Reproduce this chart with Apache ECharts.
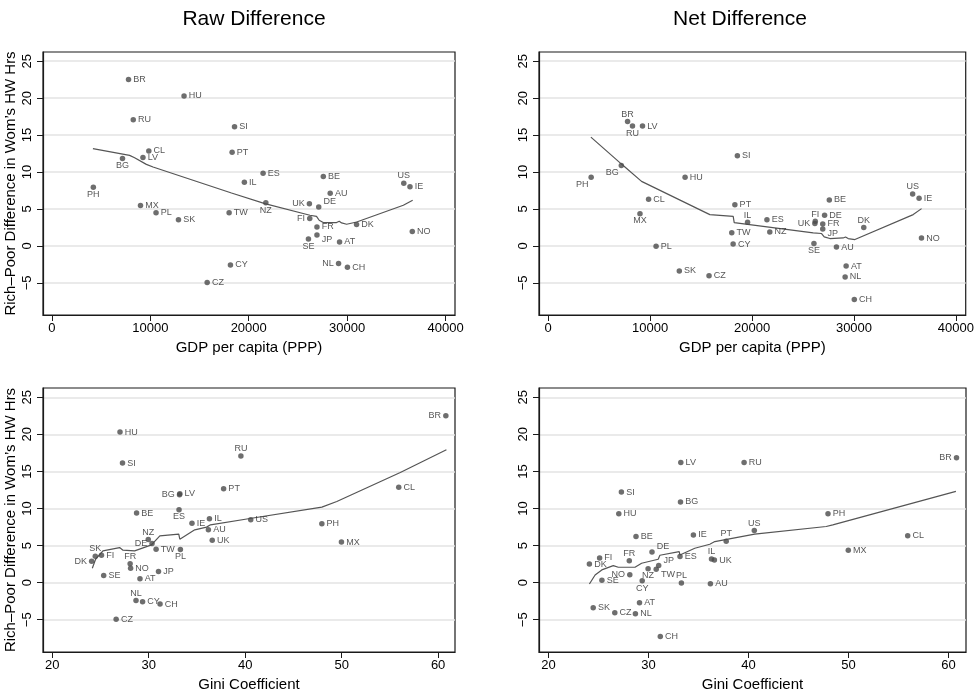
<!DOCTYPE html>
<html><head><meta charset="utf-8">
<script src="https://cdn.jsdelivr.net/npm/echarts@6/dist/echarts.min.js"></script>
<style>html,body{margin:0;padding:0;background:#fff}#c{width:977px;height:693px}</style>
</head><body><div id="c"></div>
<script>
// ---- data ----
const countries = ['BR','HU','RU','SI','CL','PT','LV','BG','ES','BE','US','IE','IL','PH','AU','MX','NZ','UK','DE','PL','TW','SK','FI','FR','DK','NO','JP','SE','AT','NL','CH','CY','CZ'];
const gdp = [7790,13430,8270,18560,9850,18315,9255,7175,21460,27580,35755,36385,19560,4215,28280,9005,21740,26165,27115,10585,18010,12865,26200,26935,30960,36620,26935,26070,29230,29130,30030,18145,15780];
const gini = [60.8,27.03,39.56,27.29,55.92,37.77,33.23,33.2,33.15,28.75,40.58,34.49,36.3,47.95,36.19,49.98,29.96,36.59,30.35,33.29,30.77,24.47,25.11,28.08,24.09,28.13,31.02,25.34,29.1,28.69,31.18,29.37,26.63];
const rawDiff = [22.52,20.3,17.07,16.13,12.86,12.68,11.98,11.85,9.84,9.39,8.49,8.02,8.62,7.93,7.14,5.48,5.83,5.72,5.27,4.48,4.5,3.56,3.71,2.56,2.9,1.96,1.49,0.95,0.54,-2.39,-2.88,-2.57,-4.95];
const netDiff = [16.83,9.28,16.22,12.21,6.31,5.59,16.22,10.88,3.53,6.22,7.03,6.44,3.2,9.28,-0.16,4.37,1.89,3.04,4.14,-0.05,1.8,-3.38,3.33,2.97,2.5,1.06,2.3,0.32,-2.72,-4.19,-7.25,0.25,-4.05];

// lowess smooth lines
const fitRawGdpX = [4170,7900,8410,9600,10280,18250,18410,21640,26220,26890,27160,27570,28930,29200,29440,29950,30970,35710,36660];
const fitRawGdpY = [13.16,12.26,11.94,11.04,10.68,7.16,6.99,5.73,4.15,4.01,3.47,3.16,3.16,3.34,3.11,2.93,3.24,5.5,6.18];
const fitNetGdpX = [4190,7030,7530,9160,15860,18150,18250,26000,26820,27080,27640,28940,29170,29430,30090,35810,36630];
const fitNetGdpY = [14.73,11.27,10.68,8.74,4.24,4.01,3.16,1.76,1.68,1.22,1.0,1.08,1.2,1.0,0.86,4.24,5.05];
const fitRawGiniX = [24.16,24.5,25.26,26.99,27.34,28.55,30.29,31.16,33.12,33.23,34.78,36.0,36.41,40.5,47.95,49.5,56.08,60.86];
const fitRawGiniY = [1.95,3.16,4.28,4.73,4.38,4.28,5.09,6.31,6.54,5.86,7.12,7.49,7.8,8.65,10.19,10.95,14.86,17.93];
const fitNetGiniX = [24.09,24.66,25.33,26.48,26.98,28.65,29.31,30.97,31.14,33.07,33.14,34.63,36.13,36.63,40.62,47.77,48.43,60.74];
const fitNetGiniY = [-0.18,1.04,1.72,2.3,2.08,2.08,2.62,3.16,3.7,4.19,3.74,4.64,5.18,5.54,6.54,7.57,7.8,12.3];

const yTicks = [-5,0,5,10,15,20,25];
const gdpTicks = [0,10000,20000,30000,40000];
const giniTicks = [20,30,40,50,60];

const titles = ['Raw Difference','Net Difference'];
const yTitle = 'Rich\u2013Poor Difference in Wom\u2019s HW Hrs';
const xTitles = ['GDP per capita (PPP)','Gini Coefficient'];

// label placement (clock positions) per panel — styling only
const labelClock = [
  {US:12, PH:6, BG:6, NZ:6, UK:9, FI:9, SE:6, NL:9, DE:2, JP:4},
  {BR:12, RU:6, BG:7, PH:7, MX:6, FI:12, IL:12, UK:9, DK:12, US:12, SE:6, JP:4},
  {BR:9, RU:12, BG:9, ES:6, NZ:12, DE:9, PL:6, SK:12, DK:9, FR:12, NL:12},
  {BR:9, US:12, PT:12, IL:12, FR:12, NO:9, CY:6, NZ:6, PL:12, DE:2, JP:2, TW:4}
];

// ---- build ----
const FONT = 'Liberation Sans, Arial, Helvetica, sans-serif';
function labelFor(c) {
  switch (c) {
    case 9: return {position:'left', distance:2};
    case 12: return {position:'top', distance:0};
    case 6: return {position:'bottom', distance:0};
    case 2: return {position:'right', distance:2, offset:[0,-5]};
    case 4: return {position:'right', distance:2, offset:[0,5]};
    case 7: return {position:'bottom', distance:0, offset:[-9,0]};
    default: return {position:'right', distance:2};
  }
}
function minus(v){ return String(v).replace('-', '\u2212'); }

const grids = [
  {left:43, top:52, width:412, height:263},
  {left:539, top:52, width:427, height:263},
  {left:43, top:388, width:412, height:264},
  {left:539, top:388, width:427, height:264}
].map(g => Object.assign(g, {show:true, borderColor:'#1a1a1a', borderWidth:1.2, backgroundColor:'#fff'}));

const panels = [
  {xv:gdp, yv:rawDiff, fx:fitRawGdpX, fy:fitRawGdpY, gdpAxis:true},
  {xv:gdp, yv:netDiff, fx:fitNetGdpX, fy:fitNetGdpY, gdpAxis:true},
  {xv:gini, yv:rawDiff, fx:fitRawGiniX, fy:fitRawGiniY, gdpAxis:false},
  {xv:gini, yv:netDiff, fx:fitNetGiniX, fy:fitNetGiniY, gdpAxis:false}
];

const axisLine = {show:true, onZero:false, lineStyle:{color:'#1a1a1a', width:1.2}};
const axisTickBase = {show:true, inside:false, length:6, lineStyle:{color:'#1a1a1a', width:1}};
const xAxes = [], yAxes = [], series = [];
panels.forEach((p, i) => {
  const ticks = p.gdpAxis ? gdpTicks : giniTicks;
  xAxes.push({
    type:'value', gridIndex:i,
    min: p.gdpAxis ? -900 : 19.05, max: p.gdpAxis ? 40960 : 61.75,
    axisLine, axisTick:Object.assign({customValues:ticks}, axisTickBase),
    axisLabel:{customValues:ticks, color:'#000', fontSize:13, fontFamily:FONT, margin:7, formatter:minus},
    splitLine:{show:false},
    name: xTitles[p.gdpAxis ? 0 : 1], nameLocation:'middle', nameGap:25,
    nameTextStyle:{color:'#000', fontSize:15, fontFamily:FONT}
  });
  yAxes.push({
    type:'value', gridIndex:i, min:-9.35, max:26.25,
    axisLine, axisTick:Object.assign({customValues:yTicks}, axisTickBase),
    axisLabel:{customValues:yTicks, color:'#000', fontSize:13, fontFamily:FONT, margin:9, rotate:90, formatter:minus},
    splitLine:{show:true, lineStyle:{color:'#e3e3e3', width:1.5}},
    name: (i % 2 === 0) ? yTitle : '', nameLocation:'middle', nameGap:25, nameRotate:90,
    nameTextStyle:{color:'#000', fontSize:15, fontFamily:FONT}
  });
  series.push({
    type:'line', xAxisIndex:i, yAxisIndex:i, showSymbol:false, silent:true,
    data: p.fx.map((x, k) => [x, p.fy[k]]),
    lineStyle:{color:'#555', width:1.2}, z:2, animation:false
  });
  series.push({
    type:'scatter', xAxisIndex:i, yAxisIndex:i, symbolSize:5.5, z:3, animation:false,
    itemStyle:{color:'#4a4a4a'},
    label:{show:true, formatter:'{@[2]}', color:'#2a2a2a', fontSize:9, fontFamily:FONT},
    data: countries.map((c, k) => ({
      value:[p.xv[k], p.yv[k], c],
      label: labelFor(labelClock[i][c])
    }))
  });
});

const chart = echarts.init(document.getElementById('c'), null, {renderer:'canvas'});
chart.setOption({
  backgroundColor:'#fff',
  animation:false,
  title: [
    {text:titles[0], left:249, top:4, textAlign:'center', textStyle:{fontSize:21, fontWeight:'normal', color:'#000', fontFamily:FONT}},
    {text:titles[1], left:735, top:4, textAlign:'center', textStyle:{fontSize:21, fontWeight:'normal', color:'#000', fontFamily:FONT}}
  ],
  grid: grids, xAxis: xAxes, yAxis: yAxes, series
});
</script></body></html>
